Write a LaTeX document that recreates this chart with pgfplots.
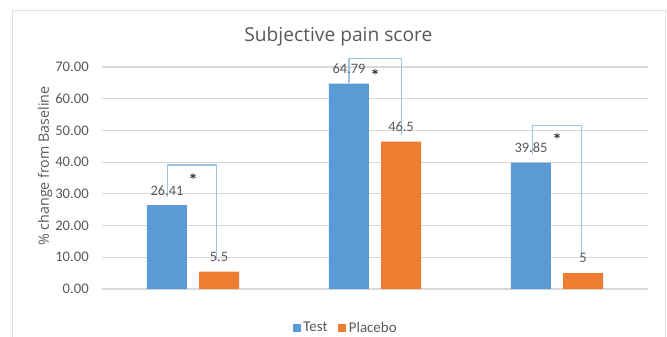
\documentclass[border=0pt]{standalone}
\usepackage{pgfplots}
\pgfplotsset{compat=1.18}
\usepackage{fontspec}
\setmainfont{Carlito}
\newfontfamily\osans{Open Sans}
\definecolor{cblue}{HTML}{5B9BD5}
\definecolor{corange}{HTML}{ED7D31}
\definecolor{ctext}{HTML}{595959}
\definecolor{cgrid}{HTML}{D9D9D9}
\definecolor{cbrack}{HTML}{9DC3E6}
\begin{document}
\begin{tikzpicture}
\useasboundingbox (-76.5pt,-35.25pt) rectangle (423.75pt,216.75pt);
\draw[cgrid!80] (-67.5pt,-40pt) rectangle (422.25pt,209.25pt);
\begin{axis}[
  at={(0,0)}, anchor=south west,
  scale only axis, width=409.5pt, height=178.4pt,
  xmin=-0.5, xmax=2.5, ymin=0, ymax=75,
  axis line style={draw=none},
  clip=false,
  ytick={0,10,...,70}, xtick=\empty,
  ymajorgrids, grid style={cgrid, line width=0.8pt},
  major tick length=0pt,
  /pgf/number format/assume math mode=true,
  yticklabel={\pgfmathprintnumber[fixed,fixed zerofill,precision=2]{\tick}},
  yticklabel style={font=\fontsize{11}{12}\selectfont, text=ctext, inner sep=0pt, xshift=-9.75pt},
  ylabel={\% change from Baseline},
  every axis y label/.style={at={(axis description cs:-0.104,0.517)}, rotate=90, anchor=center, font=\osans\fontsize{10.7}{12}\selectfont, text=ctext},
  title={Subjective pain score},
  every axis title/.style={at={(axis description cs:0.433,1.063)}, anchor=center, font=\osans\fontsize{14.4}{16}\selectfont, text=ctext},
  nodes near coords style={font=\fontsize{10.8}{12}\selectfont, text=ctext, anchor=center, yshift=11.25pt},
  legend columns=2,
  legend style={draw=none, fill=none, at={(axis description cs:0.447,-0.164)}, anchor=center, font=\fontsize{11.2}{12}\selectfont, text=ctext, /tikz/every even column/.append style={column sep=6pt}},
  legend image code/.code={\fill[#1] (0pt,-3.3pt) rectangle (6pt,2.7pt);},
]
\addplot[ybar, bar width=0.22, bar shift=0, fill=cblue, draw=none, nodes near coords] coordinates {(-0.143,26.41) (0.857,64.79) (1.857,39.85)};
\addlegendentry{Test}
\addplot[ybar, bar width=0.22, bar shift=0, fill=corange, draw=none, nodes near coords] coordinates {(0.143,5.5) (1.143,46.5) (2.143,5)};
\addlegendentry{Placebo}
\addplot[sharp plot, cbrack, line width=0.8pt, forget plot] coordinates {(-0.14,29) (-0.14,39.1) (0.13,39.1) (0.13,9.1)};
\addplot[sharp plot, cbrack, line width=0.8pt, forget plot] coordinates {(0.857,65) (0.857,72.6) (1.148,72.6) (1.148,48.6)};
\addplot[sharp plot, cbrack, line width=0.8pt, forget plot] coordinates {(1.863,42.3) (1.863,51.7) (2.137,51.7) (2.137,10)};
\addplot[only marks, mark=asterisk, mark size=2.2pt, mark options={line width=0.7pt, draw=black!80}, forget plot] coordinates {(0,35.6) (1,68.5) (2,48.3)};
\end{axis}
\end{tikzpicture}
\end{document}
